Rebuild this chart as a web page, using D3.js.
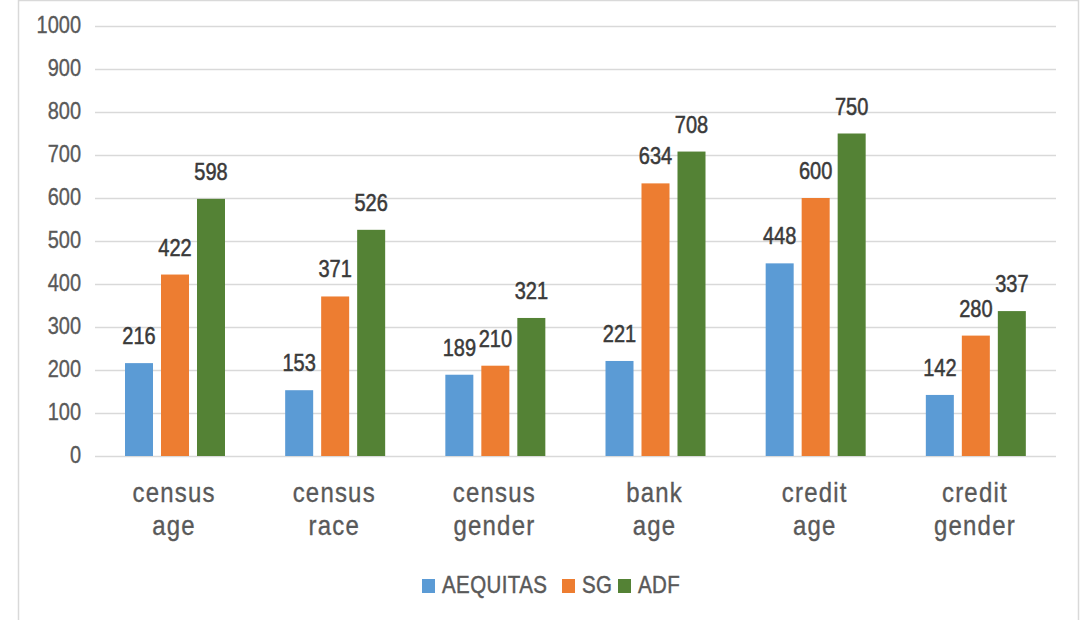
<!DOCTYPE html>
<html><head><meta charset="utf-8">
<script src="https://cdn.jsdelivr.net/npm/d3@7"></script>
<style>
html,body{margin:0;padding:0;background:#fff;}
svg{display:block;font-family:"Liberation Sans",Arial,sans-serif;}
</style></head>
<body>
<svg id="chart" width="1082" height="620"></svg>
<script>
const categories = [["census","age"],["census","race"],["census","gender"],["bank","age"],["credit","age"],["credit","gender"]];
const seriesNames = ["AEQUITAS","SG","ADF"];
const aequitas = [216,153,189,221,448,142];
const sg = [422,371,210,634,600,280];
const adf = [598,526,321,708,750,337];
const yTicks = [0,100,200,300,400,500,600,700,800,900,1000];
const colors = ["#5B9BD5","#ED7D31","#548235"];

const values = [aequitas, sg, adf];
const svg = d3.select("#chart");
const SY = 1.15;

svg.append("rect").attr("x",18.5).attr("y",0.5).attr("width",1060).attr("height",640)
  .attr("fill","#fff").attr("stroke","#d9d9d9").attr("stroke-width",1.5);

const x0 = d3.scaleBand().domain(d3.range(categories.length)).range([95,1056]).paddingInner(0).paddingOuter(0);
const x1 = d3.scaleBand().domain(d3.range(seriesNames.length)).range([30,130]).paddingInner(0.222).paddingOuter(0);
const y = d3.scaleLinear().domain([0,1000]).range([456,26]);

function txt(g, x, yy, s, size, fill, anchor, sw){
  return g.append("text").attr("transform",`translate(${x},${yy}) scale(1,${SY})`)
    .attr("text-anchor",anchor||"middle").attr("font-size",size).attr("fill",fill)
    .attr("stroke",fill).attr("stroke-width",sw==null?0.35:sw).text(s);
}

// gridlines
const yAxis = d3.axisLeft(y).tickValues(yTicks).tickSize(-(1056-95)).tickFormat("");
const ga = svg.append("g").attr("transform","translate(95,0)").call(yAxis);
ga.select(".domain").remove();
ga.selectAll(".tick line").attr("stroke","#d9d9d9").attr("stroke-width",1.5);

// y tick labels
yTicks.forEach(t=>{ txt(svg, 81, y(t)+7, String(t), 20, "#595959", "end", 0.3); });

// bars
values.forEach((vals, si)=>{
  vals.forEach((v, ci)=>{
    const bx = x0(ci) + x1(si);
    svg.append("rect").attr("x",bx).attr("y",y(v)).attr("width",x1.bandwidth())
      .attr("height",y(0)-y(v)).attr("fill",colors[si]);
    txt(svg, bx + x1.bandwidth()/2, y(v)-19, String(v), 20, "#3a3a3a", "middle", 0.45);
  });
});

// category labels
categories.forEach((c, ci)=>{
  const cx = x0(ci) + x0.bandwidth()/2 - 1;
  txt(svg, cx, 502, c[0], 24, "#595959", "middle", 0.3).attr("letter-spacing",1.2);
  txt(svg, cx, 535, c[1], 24, "#595959", "middle", 0.3).attr("letter-spacing",1.2);
});

// legend
const legendX = [422, 562, 618];
seriesNames.forEach((n, i)=>{
  svg.append("rect").attr("x",legendX[i]).attr("y",579).attr("width",13).attr("height",14).attr("fill",colors[i]);
  txt(svg, legendX[i]+20, 593, n, 20.5, "#595959", "start", 0.4).attr("letter-spacing",0.4);
});
</script>
</body></html>
